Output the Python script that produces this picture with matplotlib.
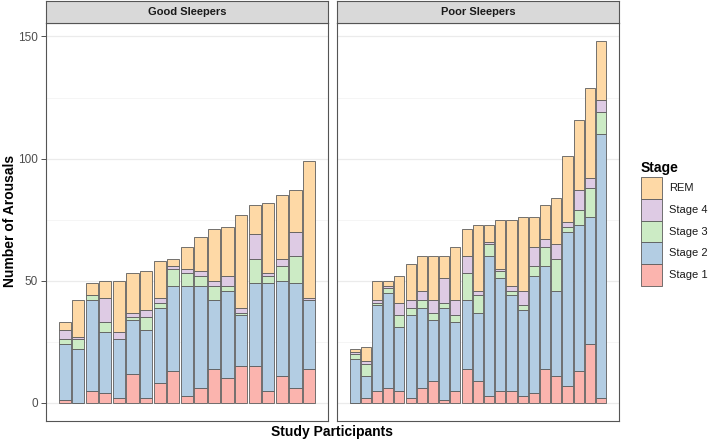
import matplotlib
matplotlib.use("Agg")
import matplotlib.pyplot as plt
from matplotlib.patches import Rectangle
import numpy as np

plt.rcParams['font.family'] = ['Liberation Sans', 'DejaVu Sans']

stages = ["Stage 1", "Stage 2", "Stage 3", "Stage 4", "REM"]
colors = ["#FBB4AE", "#B3CDE3", "#CCEBC5", "#DECBE4", "#FED9A6"]

# good sleepers, one list per stage (bottom to top)
good_s1 = [1, 0, 5, 4, 2, 12, 2, 8, 13, 3, 6, 14, 10, 15, 15, 5, 11, 6, 14]
good_s2 = [23, 22, 37, 25, 24, 22, 28, 31, 35, 45, 42, 28, 36, 21, 34, 44, 39, 43, 28]
good_s3 = [2, 4, 2, 4, 0, 1, 5, 2, 7, 5, 4, 6, 2, 1, 10, 3, 6, 11, 0]
good_s4 = [4, 1, 0, 10, 3, 2, 3, 2, 1, 2, 2, 2, 4, 2, 10, 1, 3, 10, 1]
good_rem = [3, 15, 5, 7, 21, 16, 16, 15, 3, 9, 14, 21, 20, 38, 12, 29, 26, 17, 56]

# poor sleepers
poor_s1 = [0, 2, 5, 6, 5, 2, 6, 9, 1, 5, 14, 9, 3, 5, 5, 3, 4, 14, 11, 7, 13, 24, 2]
poor_s2 = [18, 9, 35, 39, 26, 34, 33, 25, 38, 28, 28, 28, 57, 46, 39, 35, 48, 42, 35, 63, 60, 52, 108]
poor_s3 = [2, 5, 1, 2, 5, 3, 3, 3, 2, 3, 11, 7, 5, 3, 2, 2, 4, 8, 13, 2, 6, 12, 9]
poor_s4 = [1, 1, 1, 1, 5, 3, 4, 5, 10, 6, 7, 2, 1, 1, 2, 6, 8, 3, 6, 2, 8, 4, 5]
poor_rem = [1, 6, 8, 2, 11, 15, 14, 18, 9, 22, 11, 27, 7, 20, 27, 30, 12, 14, 19, 27, 29, 37, 24]

W, H = 709, 443


def fx(x):
    return x / W


def fy(y):
    return 1 - y / H


fig = plt.figure(figsize=(W / 100, H / 100), dpi=100)


def draw_panel(left, right, title, data, show_y):
    ax = fig.add_axes([fx(left), fy(421), fx(right) - fx(left), fy(23.3) - fy(421)])
    n = len(data[0])
    x = np.arange(1, n + 1)
    bottom = np.zeros(n)
    for vals, c in zip(data, colors):
        vals = np.array(vals)
        ax.bar(x, vals, width=0.9, bottom=bottom, color=c,
               edgecolor="#5c5c5c", linewidth=0.6, zorder=3)
        bottom += vals
    span = n - 0.1
    ax.set_xlim(0.55 - 0.05 * span, n + 0.45 + 0.05 * span)
    ax.set_ylim(-7.4, 155.4)
    ax.set_yticks([0, 50, 100, 150])
    ax.set_yticks([25, 75, 125], minor=True)
    ax.grid(axis="y", which="major", color="#EBEBEB", linewidth=0.9, zorder=0)
    ax.grid(axis="y", which="minor", color="#F2F2F2", linewidth=0.5, zorder=0)
    ax.set_xticks([])
    ax.tick_params(axis="y", which="minor", length=0)
    ax.tick_params(axis="y", which="major", length=3.5, width=0.6, color="#333333",
                   labelsize=8.5, labelcolor="#4D4D4D", pad=2)
    if not show_y:
        ax.tick_params(axis="y", which="major", length=0, labelleft=False)
    for s in ax.spines.values():
        s.set_color("#555555")
        s.set_linewidth(0.8)
    # facet strip
    strip = fig.add_axes([fx(left), fy(23.3), fx(right) - fx(left), fy(1) - fy(23.3)])
    strip.set_facecolor("#D9D9D9")
    strip.set_xticks([])
    strip.set_yticks([])
    for s in strip.spines.values():
        s.set_color("#555555")
        s.set_linewidth(0.8)
    strip.text(0.5, 0.5, title, ha="center", va="center", fontsize=8,
               fontweight="bold", color="#1A1A1A", transform=strip.transAxes)
    return ax


good = [good_s1, good_s2, good_s3, good_s4, good_rem]
poor = [poor_s1, poor_s2, poor_s3, poor_s4, poor_rem]
draw_panel(45.7, 328, "Good Sleepers", good, True)
draw_panel(336.7, 619, "Poor Sleepers", poor, False)

fig.text(fx(10), fy(221), "Number of Arousals", rotation=90, ha="center", va="center",
         fontsize=10, fontweight="bold")
fig.text(fx(332), fy(432), "Study Participants", ha="center", va="center",
         fontsize=10, fontweight="bold")

# legend (REM on top)
fig.text(fx(641), fy(168), "Stage", ha="left", va="center", fontsize=10, fontweight="bold")
key_h = 21.7
for i, (lab, c) in enumerate(zip(stages[::-1], colors[::-1])):
    top = 177.3 + i * key_h
    fig.patches.append(Rectangle((fx(641), fy(top + key_h)), fx(21), fy(top) - fy(top + key_h),
                                 transform=fig.transFigure, facecolor=c,
                                 edgecolor="#5c5c5c", linewidth=0.6))
    fig.text(fx(669), fy(top + key_h / 2), lab, ha="left", va="center", fontsize=8,
             color="#1A1A1A")

fig.savefig("out.png", dpi=100)
